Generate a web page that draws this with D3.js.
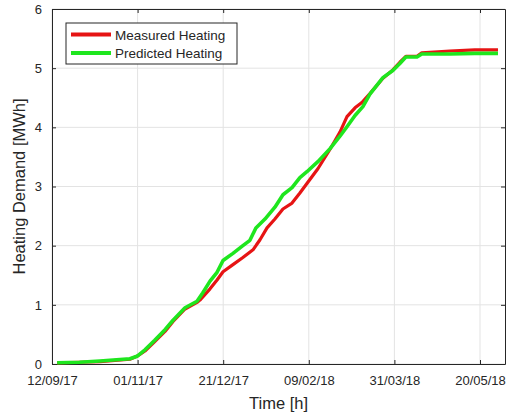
<!DOCTYPE html>
<html>
<head>
<meta charset="utf-8">
<script src="https://cdn.jsdelivr.net/npm/d3@7"></script>
<style>
  body { margin: 0; background: #fff; }
  text { font-family: "Liberation Sans", Arial, sans-serif; fill: #262626; }
</style>
</head>
<body>
<div id="chart"></div>
<script>
// days since 12/09/17
const tickDays = [0, 50, 100, 150, 200, 250];
const tickLabels = ["12/09/17", "01/11/17", "21/12/17", "09/02/18", "31/03/18", "20/05/18"];
const yTicks = [0, 1, 2, 3, 4, 5, 6];

const measuredDays = [3, 16, 28, 45.5, 49.6, 54.3, 60, 66, 70.7, 77.7, 84.7, 86.4, 92.3, 96.4, 99.9,
  105.7, 111.5, 117.4, 121.5, 125.6, 130.2, 134.9, 140.2, 144.8, 148.9, 155.3, 162.4, 168.2, 172.3,
  177, 181, 185.7, 193.3, 199.1, 203.2, 206.7, 213.2, 216, 232.4, 247, 260.5];
const measured = [0.02, 0.03, 0.04, 0.08, 0.13, 0.22, 0.38, 0.55, 0.72, 0.93, 1.04, 1.08, 1.27, 1.42, 1.56,
  1.68, 1.80, 1.93, 2.10, 2.30, 2.45, 2.62, 2.72, 2.89, 3.05, 3.30, 3.63, 3.92, 4.18,
  4.33, 4.42, 4.57, 4.83, 4.97, 5.10, 5.20, 5.20, 5.26, 5.29, 5.31, 5.31];

const predictedDays = [3, 16, 28, 45.5, 49.6, 54.3, 60, 66, 70.7, 77.7, 84.7, 88, 92.3, 96.4, 99.9,
  105.7, 111.5, 115.6, 119.1, 124.4, 130.2, 134.9, 140.2, 144.8, 148.9, 155.3, 162.4, 168.2, 172.3,
  177, 181.6, 185.7, 193.3, 199.1, 203.2, 206.7, 213.2, 216, 232.4, 247, 260.5];
const predicted = [0.02, 0.03, 0.05, 0.09, 0.13, 0.24, 0.40, 0.58, 0.74, 0.95, 1.06, 1.20, 1.40, 1.55, 1.75,
  1.87, 2.00, 2.09, 2.30, 2.45, 2.65, 2.86, 2.98, 3.15, 3.25, 3.42, 3.64, 3.85, 4.01,
  4.20, 4.35, 4.56, 4.84, 4.96, 5.08, 5.19, 5.19, 5.24, 5.24, 5.25, 5.25];

const W = 512, H = 417;
const margin = {top: 9, right: 7, bottom: 53, left: 52};
const width = W - margin.left - margin.right,
      height = H - margin.top - margin.bottom;

const x = d3.scaleLinear().domain([0, 264.6]).range([0, width]);
const y = d3.scaleLinear().domain([0, 6]).range([height, 0]);

const svg = d3.select("#chart").append("svg")
    .attr("width", W).attr("height", H)
  .append("g")
    .attr("transform", `translate(${margin.left},${margin.top})`);

// grid
svg.append("g").selectAll("line").data(tickDays).enter().append("line")
    .attr("x1", d => x(d)).attr("x2", d => x(d))
    .attr("y1", 0).attr("y2", height)
    .attr("stroke", "#e3e3e3").attr("stroke-width", 1);
svg.append("g").selectAll("line").data(yTicks).enter().append("line")
    .attr("y1", d => y(d)).attr("y2", d => y(d))
    .attr("x1", 0).attr("x2", width)
    .attr("stroke", "#e3e3e3").attr("stroke-width", 1);

// axes, inward ticks
const xAxis = svg.append("g")
    .attr("transform", `translate(0,${height})`)
    .call(d3.axisBottom(x).tickValues(tickDays).tickFormat((d, i) => tickLabels[i])
      .tickSizeInner(-4).tickSizeOuter(0).tickPadding(12));
const xTop = svg.append("g")
    .call(d3.axisTop(x).tickValues(tickDays).tickFormat("").tickSizeInner(-4).tickSizeOuter(0));
const yAxis = svg.append("g")
    .call(d3.axisLeft(y).tickValues(yTicks).tickFormat(d3.format("d"))
      .tickSizeInner(-4).tickSizeOuter(0).tickPadding(10));
const yRight = svg.append("g")
    .attr("transform", `translate(${width},0)`)
    .call(d3.axisRight(y).tickValues(yTicks).tickFormat("").tickSizeInner(-4).tickSizeOuter(0));

[xAxis, xTop, yAxis, yRight].forEach(a => {
  a.select(".domain").attr("stroke", "#262626");
  a.selectAll(".tick line").attr("stroke", "#262626");
  a.selectAll("text").style("font-size", "13px").attr("fill", "#262626")
    .style("font-family", "'Liberation Sans', Arial, sans-serif");
});

// lines
const line = d3.line().x(d => x(d[0])).y(d => y(d[1])).curve(d3.curveLinear);
svg.append("path")
    .datum(measuredDays.map((d, i) => [d, measured[i]]))
    .attr("fill", "none").attr("stroke", "#e61414").attr("stroke-width", 3.2)
    .attr("stroke-linejoin", "round")
    .attr("d", line);
svg.append("path")
    .datum(predictedDays.map((d, i) => [d, predicted[i]]))
    .attr("fill", "none").attr("stroke", "#1ee61e").attr("stroke-width", 3.6)
    .attr("stroke-linejoin", "round")
    .attr("d", line);

// labels
svg.append("text")
    .attr("x", width / 2).attr("y", height + 45)
    .attr("text-anchor", "middle").style("font-size", "16.5px")
    .text("Time [h]");
svg.append("text")
    .attr("transform", `translate(${-27},${height / 2}) rotate(-90)`)
    .attr("text-anchor", "middle").style("font-size", "16.5px")
    .text("Heating Demand [MWh]");

// legend
const legend = svg.append("g").attr("transform", `translate(${66 - margin.left},${23 - margin.top})`);
legend.append("rect")
    .attr("width", 171).attr("height", 41)
    .attr("fill", "#fff").attr("stroke", "#262626").attr("stroke-width", 1);
const items = [["Measured Heating", "#e61414"], ["Predicted Heating", "#1ee61e"]];
items.forEach((it, i) => {
  const g = legend.append("g").attr("transform", `translate(0,${11.5 + i * 18.5})`);
  g.append("line").attr("x1", 5).attr("x2", 45).attr("stroke", it[1]).attr("stroke-width", 4);
  g.append("text").attr("x", 49).attr("y", 5).style("font-size", "13.5px").text(it[0]);
});
</script>
</body>
</html>
